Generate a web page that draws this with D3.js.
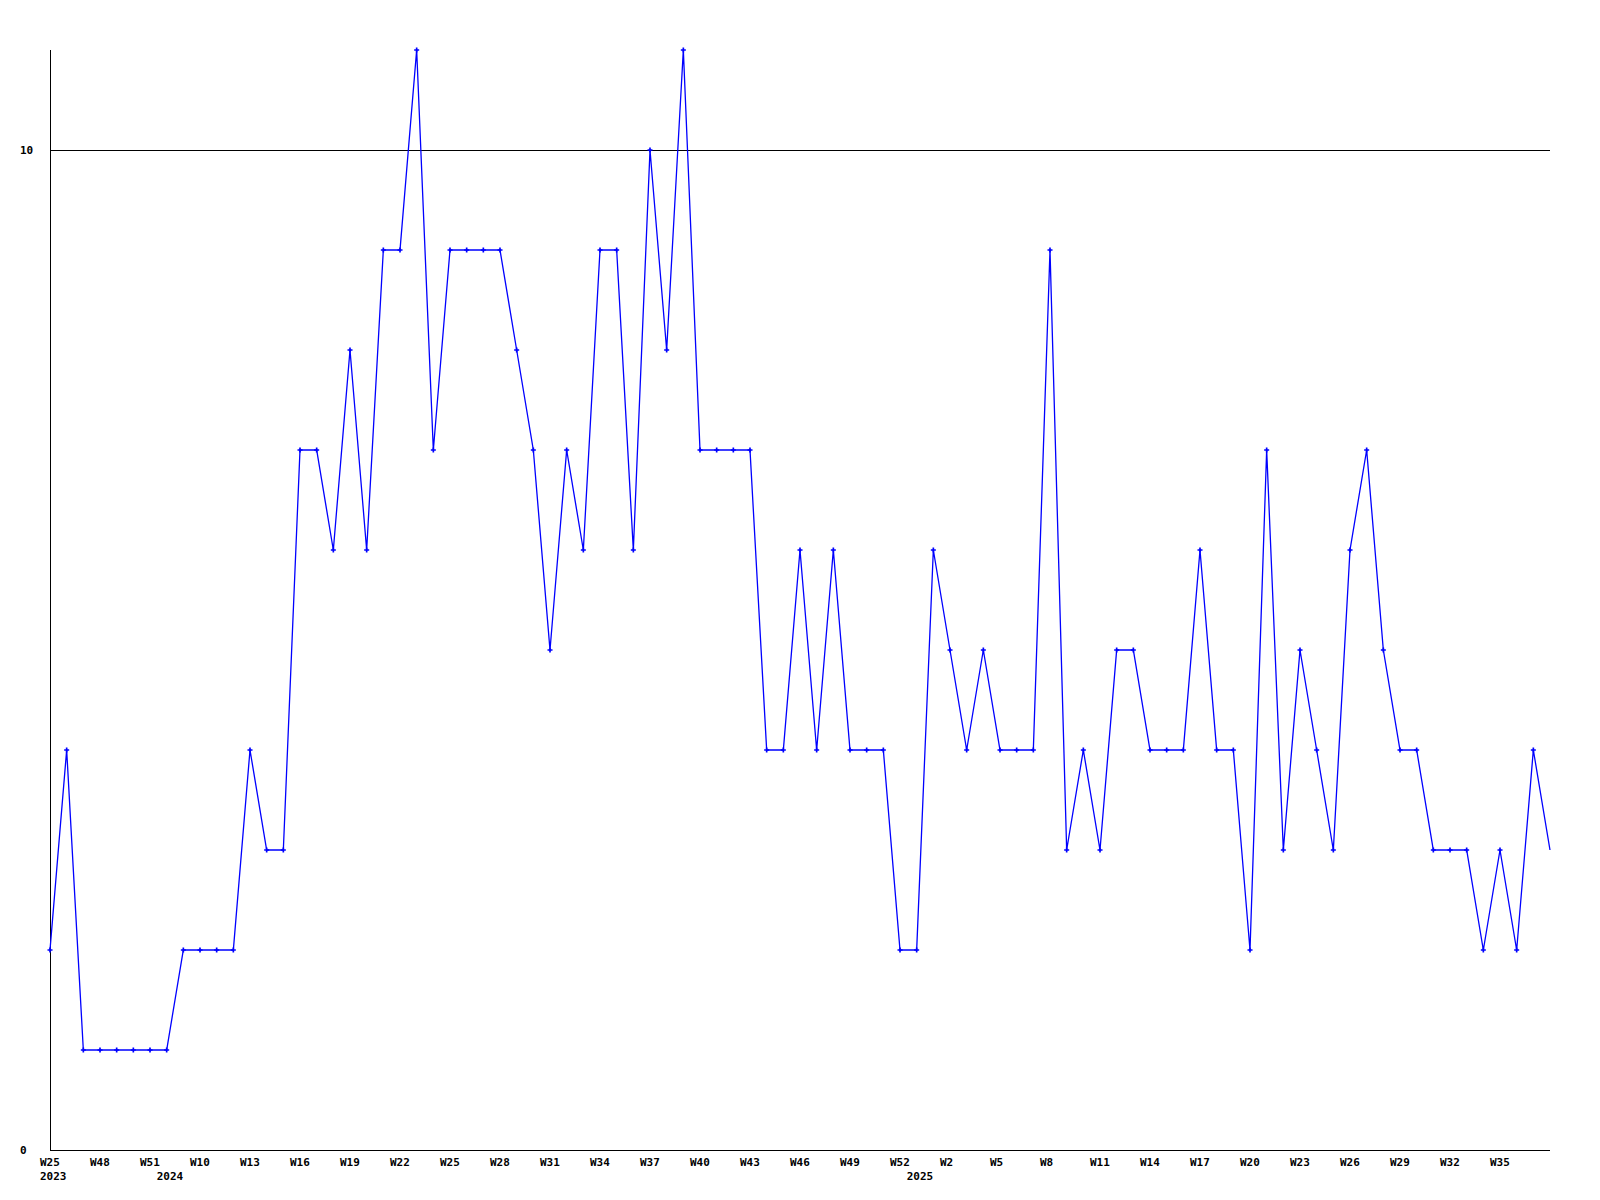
<!DOCTYPE html>
<html>
<head>
<meta charset="utf-8">
<script src="https://cdn.jsdelivr.net/npm/d3@7"></script>
<style>
  html, body { margin: 0; padding: 0; background: #ffffff; }
  svg { display: block; }
  text { font-family: "DejaVu Sans Mono", "Liberation Mono", monospace; font-size: 11px; font-weight: bold; fill: #000; }
</style>
</head>
<body>
<div id="chart"></div>
<script>
// weekly values, one per point
const values = [
  2, 4, 1, 1, 1, 1, 1, 1, 2, 2,
  2, 2, 4, 3, 3, 7, 7, 6, 8, 6,
  9, 9, 11, 7, 9, 9, 9, 9, 8, 7,
  5, 7, 6, 9, 9, 6, 10, 8, 11, 7,
  7, 7, 7, 4, 4, 6, 4, 6, 4, 4,
  4, 2, 2, 6, 5, 4, 5, 4, 4, 4,
  9, 3, 4, 3, 5, 5, 4, 4, 4, 6,
  4, 4, 2, 7, 3, 5, 4, 3, 6, 7,
  5, 4, 4, 3, 3, 3, 2, 3, 2, 4,
  3
];
// week labels shown every third point
const weekLabels = ['W25', 'W48', 'W51', 'W10', 'W13', 'W16', 'W19', 'W22', 'W25', 'W28',
  'W31', 'W34', 'W37', 'W40', 'W43', 'W46', 'W49', 'W52', 'W2', 'W5',
  'W8', 'W11', 'W14', 'W17', 'W20', 'W23', 'W26', 'W29', 'W32', 'W35'];
// year labels at the first point of each year
const yearLabels = [
  { index: 0, year: '2023' },
  { index: 7, year: '2024' },
  { index: 52, year: '2025' }
];
const yTicks = [0, 10];

const width = 1600;
const height = 1200;
const margin = { top: 50, right: 50, bottom: 50, left: 50 };

const svg = d3.select('#chart').append('svg')
    .attr('width', width)
    .attr('height', height);

const xScale = d3.scaleLinear().domain([0, values.length - 1]).range([margin.left, width - margin.right]);
const yScale = d3.scaleLinear().domain([0, 11]).range([height - margin.bottom, margin.top]);

svg.append('clipPath').attr('id', 'mark-clip')
    .append('rect')
    .attr('x', 0).attr('y', 0)
    .attr('width', width - margin.right - 3)
    .attr('height', height);

// gridline at 10
svg.selectAll('.grid')
    .data(yTicks.filter(d => d > 0))
    .enter()
    .append('line')
    .attr('x1', margin.left)
    .attr('x2', width - margin.right)
    .attr('y1', d => Math.round(yScale(d)) + 0.5)
    .attr('y2', d => Math.round(yScale(d)) + 0.5)
    .attr('stroke', '#000')
    .attr('stroke-width', 1)
    .style('shape-rendering', 'crispEdges');

// axes
svg.append('line')
    .attr('x1', margin.left + 0.5).attr('x2', margin.left + 0.5)
    .attr('y1', margin.top).attr('y2', yScale(0) + 0.5)
    .attr('stroke', '#000')
    .style('shape-rendering', 'crispEdges');
svg.append('line')
    .attr('x1', margin.left).attr('x2', width - margin.right)
    .attr('y1', yScale(0) + 0.5).attr('y2', yScale(0) + 0.5)
    .attr('stroke', '#000')
    .style('shape-rendering', 'crispEdges');

svg.selectAll('.ytick')
    .data(yTicks)
    .enter()
    .append('text')
    .attr('x', 20)
    .attr('y', d => yScale(d))
    .attr('dy', '0.35em')
    .text(d => d);

svg.selectAll('.xtick')
    .data(weekLabels)
    .enter()
    .append('text')
    .attr('x', (d, i) => xScale(i * 3) - 10)
    .attr('y', 1166)
    .text(d => d);

svg.selectAll('.year')
    .data(yearLabels)
    .enter()
    .append('text')
    .attr('x', d => xScale(d.index) - 10)
    .attr('y', 1180)
    .text(d => d.year);

const line = d3.line().x((d, i) => xScale(i)).y(d => yScale(d));
svg.append('path')
    .datum(values)
    .attr('fill', 'none')
    .attr('stroke', '#0000ff')
    .attr('stroke-width', 1.3)
    .attr('d', line);

svg.append('g')
    .attr('clip-path', 'url(#mark-clip)')
    .selectAll('.mark')
    .data(values)
    .enter()
    .append('path')
    .attr('transform', (d, i) => `translate(${xScale(i)}, ${yScale(d)})`)
    .attr('d', d3.symbol(d3.symbolCross, 14))
    .attr('fill', '#0000ff');
</script>
</body>
</html>
